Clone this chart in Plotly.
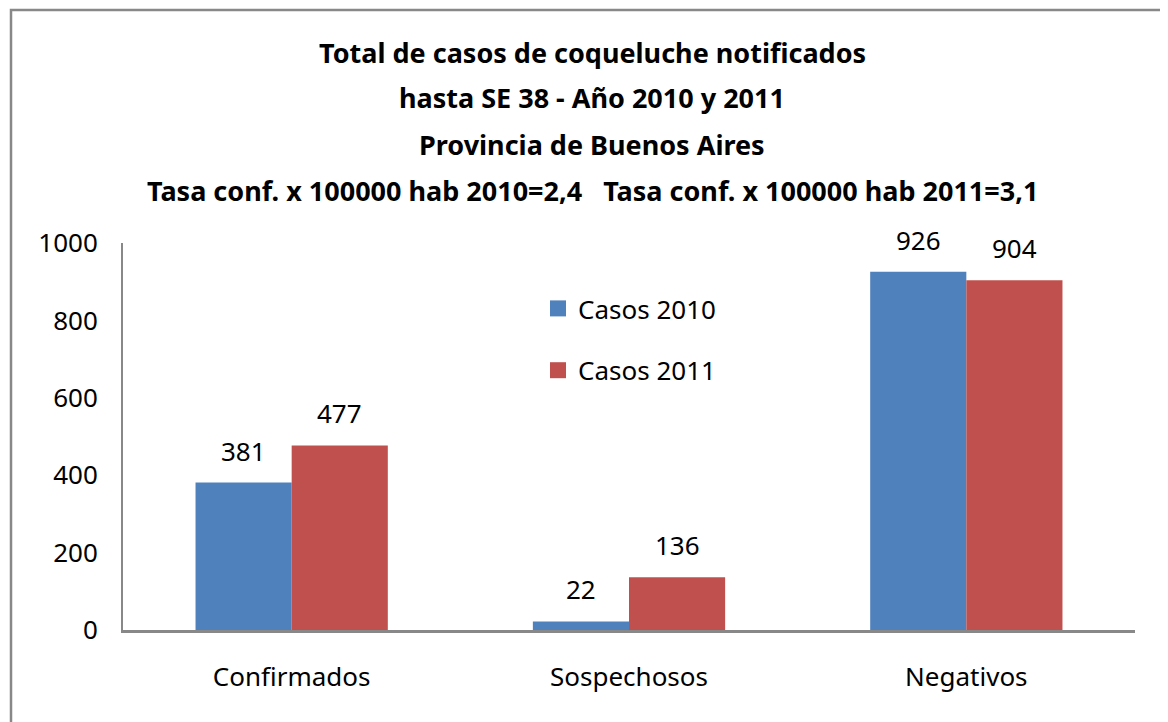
import plotly.graph_objects as go

categorias = ['Confirmados', 'Sospechosos', 'Negativos']
casos_2010 = [381, 22, 926]
casos_2011 = [477, 136, 904]
titulo = ['Total de casos de coqueluche notificados',
          'hasta SE 38 - Año 2010 y 2011',
          'Provincia de Buenos Aires',
          'Tasa conf. x 100000 hab 2010=2,4   Tasa conf. x 100000 hab 2011=3,1']

fuente = 'Noto Sans'
azul = '#4F81BD'
rojo = '#C0504D'

fig = go.Figure()
fig.add_trace(go.Bar(x=categorias, y=casos_2010, name='Casos 2010', showlegend=False,
                     marker=dict(color=azul, line=dict(width=0))))
fig.add_trace(go.Bar(x=categorias, y=casos_2011, name='Casos 2011', showlegend=False,
                     marker=dict(color=rojo, line=dict(width=0))))

# leyenda con cuadrados más grandes
for nombre, color, grupo in (('Casos 2010', azul, 'a'), ('Casos 2011', rojo, 'b')):
    fig.add_trace(go.Scatter(x=[None], y=[None], mode='markers', name=nombre,
                             legendgroup=grupo,
                             marker=dict(symbol='square', size=16, color=color)))

# etiquetas de datos encima de cada barra
bargap = 0.43
medio = (1 - bargap) / 4
for i in range(len(categorias)):
    for off, serie in ((-medio, casos_2010), (medio, casos_2011)):
        fig.add_annotation(x=i + off, y=serie[i], text=str(serie[i]), showarrow=False,
                           yanchor='middle', yshift=32,
                           font=dict(family=fuente, size=26, color='black'))

# área del gráfico (el html agrega 8px de margen): x 115-1127, y 235-622
alto = 387
ancho = 1012
for i, linea in enumerate(titulo):
    yp = 622 - (44 + 46 * i)
    fig.add_annotation(text='<b>' + linea + '</b>', xref='paper', yref='paper',
                       x=(584 - 115) / ancho, y=yp / alto, showarrow=False,
                       xanchor='center', yanchor='middle',
                       font=dict(family=fuente, size=27, color='black'))

# borde del gráfico
fig.add_shape(type='rect', xref='paper', yref='paper',
              x0=(3 - 115) / ancho, x1=(1200 - 115) / ancho,
              y0=(622 - 760) / alto, y1=(622 - 2) / alto,
              line=dict(color='#888888', width=2.5), layer='above')

fig.update_layout(
    width=1168, height=722,
    margin=dict(l=115, r=41, t=235, b=100),
    paper_bgcolor='white', plot_bgcolor='white',
    barmode='group', bargap=bargap, bargroupgap=0,
    font=dict(family=fuente, size=26, color='black'),
    showlegend=True,
    legend=dict(x=(530 - 115) / ancho, y=(622 - 277) / alto, xanchor='left', yanchor='top',
                bgcolor='rgba(0,0,0,0)', tracegroupgap=25,
                font=dict(family=fuente, size=26, color='black')),
    xaxis=dict(showline=True, linecolor='#888888', linewidth=2.5, ticks='',
               tickfont=dict(size=26), showgrid=False, ticklabelstandoff=22,
               automargin=False),
    yaxis=dict(range=[0, 1000], dtick=200, showline=True, linecolor='#888888',
               linewidth=2, ticks='', showgrid=False, zeroline=False,
               ticklabelstandoff=18, tickfont=dict(size=26), automargin=False),
)

fig.write_html('out.html')
